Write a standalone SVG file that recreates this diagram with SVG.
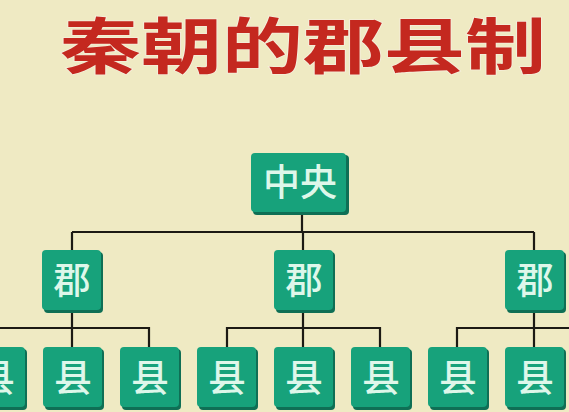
<svg xmlns="http://www.w3.org/2000/svg" width="569" height="412" viewBox="0 0 569 412">
<style>
.bg{fill:#efeac3}
.box{fill:#17a27b}
.sh{fill:#0f6f55}
.lbl{font-family:"Noto Sans CJK SC","Noto Sans",sans-serif;font-weight:500;fill:#def7ea;text-anchor:middle}
.ln{stroke:#1c1a14;stroke-width:2.2;fill:none}
.title{font-family:"Noto Sans CJK SC",sans-serif;font-weight:700;font-size:61px;fill:#c4281f;stroke:#f5eedc;stroke-width:1.5;paint-order:stroke}
</style>
<defs>
<g id="b">
<rect class="sh" x="2" y="2" width="59" height="61" rx="4"/>
<rect class="box" x="0" y="0" width="59" height="60" rx="4"/>
</g>
</defs>
<rect class="bg" width="569" height="412"/>
<text class="title" x="60" y="69" textLength="486" lengthAdjust="spacingAndGlyphs">秦朝的郡县制</text>
<g id="connectors">
<path class="ln" d="M302 212V232M72 232H534M72 232V250M303 232V250M534 232V250"/>
<path class="ln" d="M72 312V347M-10 328H149V347"/>
<path class="ln" d="M303 312V347M227 347V328H380V347"/>
<path class="ln" d="M534 312V347M457 347V328H580"/>
</g>
<g id="zhongyang">
<rect class="sh" x="253" y="155" width="96" height="60" rx="4"/>
<rect class="box" x="251" y="153" width="95" height="59" rx="4"/>
<text class="lbl" x="300" y="196" font-size="37">中央</text>
</g>
<g id="jun1"><use href="#b" x="42" y="250"/><text class="lbl" x="72" y="294" font-size="37">郡</text></g>
<g id="jun2"><use href="#b" x="274" y="250"/><text class="lbl" x="304" y="294" font-size="37">郡</text></g>
<g id="jun3"><use href="#b" x="505" y="250"/><text class="lbl" x="535" y="294" font-size="37">郡</text></g>
<g id="xian0"><use href="#b" x="-34" y="347"/><text class="lbl" x="-4" y="391" font-size="38">县</text></g>
<g id="xian1"><use href="#b" x="43" y="347"/><text class="lbl" x="73" y="391" font-size="38">县</text></g>
<g id="xian2"><use href="#b" x="120" y="347"/><text class="lbl" x="150" y="391" font-size="38">县</text></g>
<g id="xian3"><use href="#b" x="197" y="347"/><text class="lbl" x="227" y="391" font-size="38">县</text></g>
<g id="xian4"><use href="#b" x="274" y="347"/><text class="lbl" x="304" y="391" font-size="38">县</text></g>
<g id="xian5"><use href="#b" x="351" y="347"/><text class="lbl" x="381" y="391" font-size="38">县</text></g>
<g id="xian6"><use href="#b" x="428" y="347"/><text class="lbl" x="458" y="391" font-size="38">县</text></g>
<g id="xian7"><use href="#b" x="505" y="347"/><text class="lbl" x="535" y="391" font-size="38">县</text></g>
</svg>
